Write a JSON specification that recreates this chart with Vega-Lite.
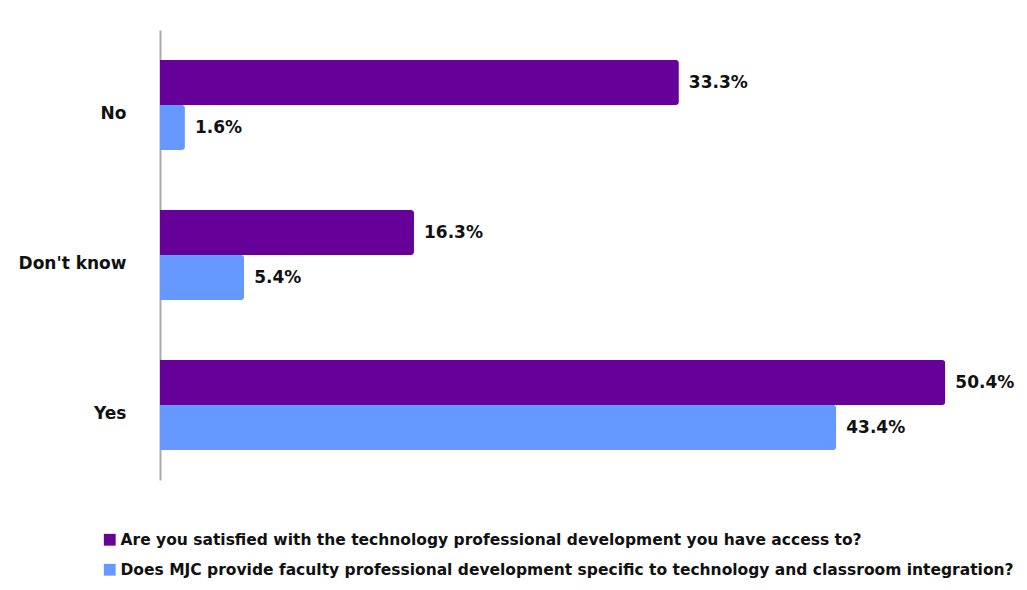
{
  "$schema": "https://vega.github.io/schema/vega-lite/v6.json",
  "autosize": {"type": "none"},
  "padding": {"left": 160, "top": 30, "right": 10, "bottom": 110},
  "width": 857,
  "height": 450,
  "background": "white",
  "config": {"view": {"stroke": null}, "font": "DejaVu Sans"},
  "data": {"values": [
    {"cat": "No", "series": "Are you satisfied with the technology professional development you have access to?", "value": 0.333},
    {"cat": "No", "series": "Does MJC provide faculty professional development specific to technology and classroom integration?", "value": 0.016},
    {"cat": "Don't know", "series": "Are you satisfied with the technology professional development you have access to?", "value": 0.163},
    {"cat": "Don't know", "series": "Does MJC provide faculty professional development specific to technology and classroom integration?", "value": 0.054},
    {"cat": "Yes", "series": "Are you satisfied with the technology professional development you have access to?", "value": 0.504},
    {"cat": "Yes", "series": "Does MJC provide faculty professional development specific to technology and classroom integration?", "value": 0.434}
  ]},
  "encoding": {
    "y": {"field": "cat", "type": "nominal", "sort": ["No", "Don't know", "Yes"],
      "scale": {"paddingInner": 0.4, "paddingOuter": 0.2},
      "axis": {"title": null, "ticks": false, "domain": true, "domainColor": "#aaaaaa", "domainWidth": 2, "labelFont": "DejaVu Sans", "labelFontWeight": "bold", "labelFontSize": 17, "labelColor": "#111111", "labelPadding": 34, "labelOffset": 9}},
    "yOffset": {"field": "series", "type": "nominal", "scale": {"paddingInner": 0}},
    "x": {"field": "value", "type": "quantitative", "scale": {"domain": [0, 0.55], "nice": false}, "axis": null}
  },
  "layer": [
    {"mark": {"type": "bar", "cornerRadiusEnd": 3, "stroke": null},
      "encoding": {"color": {"field": "series", "type": "nominal",
        "scale": {"range": ["#660099", "#6699FF"]},
        "legend": {"orient": "none", "legendX": -58, "legendY": 502, "title": null, "direction": "vertical", "columns": 1,
          "symbolType": "square", "symbolSize": 140, "labelFont": "DejaVu Sans", "labelFontWeight": "bold", "labelFontSize": 15.5, "labelColor": "#111111", "labelLimit": 1000, "rowPadding": 13, "labelOffset": 3}}}},
    {"mark": {"type": "text", "align": "left", "dx": 10, "font": "DejaVu Sans", "fontWeight": "bold", "fontSize": 17, "color": "#111111"},
      "encoding": {"text": {"field": "value", "type": "quantitative", "format": ".1%"}}}
  ]
}
